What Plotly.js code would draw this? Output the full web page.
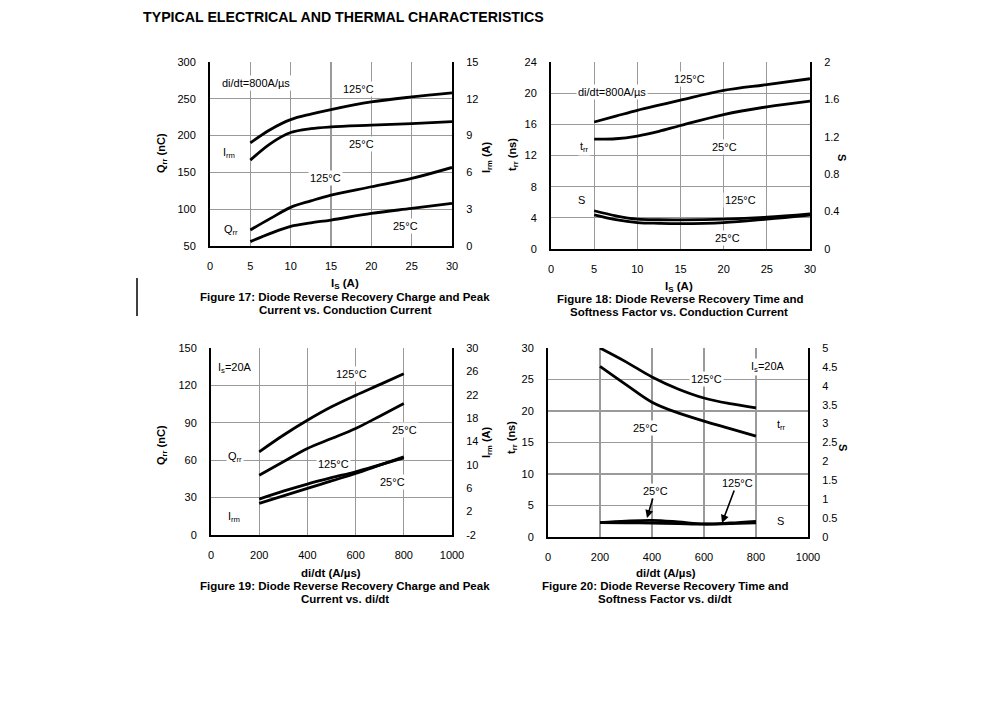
<!DOCTYPE html>
<html>
<head>
<meta charset="utf-8">
<script src="https://cdn.plot.ly/plotly-3.0.1.min.js"></script>
<style>
html,body{margin:0;padding:0;background:#fff;}
#chart{width:991px;height:713px;}
</style>
</head>
<body>
<div id="chart"></div>
<script>
// ---------- DATA ----------
// Figure 17: Qrr / Irm vs Is  (di/dt = 800 A/us)
const fig17_is = [5, 7.5, 10, 12.5, 15, 20, 25, 30];
const fig17_irm_125 = [8.41, 9.50, 10.30, 10.75, 11.12, 11.74, 12.15, 12.48];
const fig17_irm_25  = [7.0, 8.35, 9.25, 9.57, 9.71, 9.85, 9.98, 10.14];
const fig17_qrr_125 = [71.7, 87.5, 102.5, 111.3, 119.2, 130.5, 141.8, 156.7];
const fig17_qrr_25  = [55.9, 67.2, 76.8, 81.5, 85.3, 94.3, 101.1, 107.9];

// Figure 18: trr / S vs Is
const fig18_is = [5, 7.5, 10, 12.5, 15, 20, 25, 30];
const fig18_trr_125 = [16.3, 17.05, 17.8, 18.46, 19.1, 20.35, 21.1, 21.85];
const fig18_trr_25  = [14.1, 14.15, 14.5, 15.1, 15.85, 17.26, 18.25, 18.98];
const fig18_s_125   = [0.409, 0.355, 0.319, 0.313, 0.312, 0.319, 0.340, 0.376];
const fig18_s_25    = [0.366, 0.315, 0.283, 0.275, 0.272, 0.283, 0.319, 0.362];

// Figure 19: Qrr / Irm vs di/dt  (Is = 20 A)
const fig19_didt = [200, 300, 400, 500, 600, 700, 800];
const fig19_qrr_125 = [66.7, 80.0, 92.0, 102.8, 112.0, 120.6, 129.4];
const fig19_qrr_25  = [48.0, 58.7, 69.4, 77.4, 85.4, 95.3, 105.4];
const fig19_irm_125 = [4.15, 5.5, 6.71, 7.8, 8.82, 10.0, 11.21];
const fig19_irm_25  = [3.41, 4.7, 5.97, 7.25, 8.53, 9.95, 11.38];
const fig19_irm_ticks = [-2, 2, 6, 10, 14, 18, 22, 26, 30];
const fig19_irm_ticktext = ['-2', '2', '6', '10', '14', '18', '22', '26', '30'];

// Figure 20: trr / S vs di/dt  (Is = 20 A)
const fig20_didt = [200, 300, 400, 500, 600, 700, 800];
const fig20_trr_125 = [30.0, 27.8, 25.4, 23.5, 22.06, 21.16, 20.5];
const fig20_trr_25  = [27.1, 24.2, 21.4, 19.7, 18.4, 17.2, 16.0];
const fig20_s_25    = [0.38, 0.42, 0.44, 0.40, 0.345, 0.37, 0.415];
const fig20_s_125   = [0.38, 0.375, 0.37, 0.355, 0.34, 0.355, 0.375];

// ---------- LAYOUT HELPERS ----------
const W = 991, H = 713;
const F = 'Liberation Sans, Arial, sans-serif';
const GRID = '#9a9a9a';
const tf = {family: F, size: 11, color: '#000'};

function xAxis(px0, px1, range, dtick, anchor) {
  return {domain: [px0 / W, px1 / W], range: range, dtick: dtick, tick0: 0, anchor: anchor,
    showline: true, linecolor: '#000', linewidth: 2, showgrid: true, gridcolor: GRID, gridwidth: 1.3,
    zeroline: false, ticks: '', tickfont: tf, ticklabelstandoff: 9, fixedrange: true};
}
function yAxisL(py0, py1, range, dtick, tick0, anchor, grid) {
  return {domain: [1 - py1 / H, 1 - py0 / H], range: range, dtick: dtick, tick0: tick0, anchor: anchor,
    showline: true, linecolor: '#000', linewidth: 2, showgrid: grid, gridcolor: GRID, gridwidth: 1.3,
    zeroline: false, ticks: '', tickfont: tf, ticklabelstandoff: 10, fixedrange: true};
}
function yAxisR(range, dtick, tick0, overlay, anchor) {
  return {range: range, dtick: dtick, tick0: tick0, overlaying: overlay, side: 'right', anchor: anchor,
    showline: true, linecolor: '#000', linewidth: 2, showgrid: false, zeroline: false,
    ticks: '', tickfont: tf, ticklabelstandoff: 10, fixedrange: true};
}
function line(x, y, xa, ya) {
  return {x: x, y: y, xaxis: xa, yaxis: ya, type: 'scatter', mode: 'lines',
    line: {color: '#000', width: 2.8, shape: 'spline', smoothing: 1}, hoverinfo: 'skip', showlegend: false};
}

const traces = [
  line(fig17_is, fig17_irm_125, 'x', 'y2'),
  line(fig17_is, fig17_irm_25, 'x', 'y2'),
  line(fig17_is, fig17_qrr_125, 'x', 'y'),
  line(fig17_is, fig17_qrr_25, 'x', 'y'),

  line(fig18_is, fig18_trr_125, 'x2', 'y3'),
  line(fig18_is, fig18_trr_25, 'x2', 'y3'),
  line(fig18_is, fig18_s_125, 'x2', 'y4'),
  line(fig18_is, fig18_s_25, 'x2', 'y4'),

  line(fig19_didt, fig19_qrr_125, 'x3', 'y5'),
  line(fig19_didt, fig19_qrr_25, 'x3', 'y5'),
  line(fig19_didt, fig19_irm_125, 'x3', 'y6'),
  line(fig19_didt, fig19_irm_25, 'x3', 'y6'),

  line(fig20_didt, fig20_trr_125, 'x4', 'y7'),
  line(fig20_didt, fig20_trr_25, 'x4', 'y7'),
  line(fig20_didt, fig20_s_25, 'x4', 'y8'),
  line(fig20_didt, fig20_s_125, 'x4', 'y8')
];

// text helpers (pixel positions)
function T(text, x, y, opts) {
  const o = Object.assign({size: 11, bold: false, bg: true, angle: 0, anchor: 'center'}, opts || {});
  return {text: o.bold ? '<b>' + text + '</b>' : text, x: x / W, y: 1 - y / H, xref: 'paper', yref: 'paper',
    xanchor: o.anchor, yanchor: 'middle', showarrow: false, textangle: o.angle,
    font: {family: F, size: o.size, color: '#000'},
    bgcolor: o.bg ? '#fff' : 'rgba(0,0,0,0)', borderpad: 1};
}
function A(text, x, y, hx, hy) {
  return {text: text, x: hx / W, y: 1 - hy / H, xref: 'paper', yref: 'paper',
    ax: x - hx, ay: y - hy, axref: 'pixel', ayref: 'pixel', showarrow: true,
    arrowhead: 2, arrowsize: 1, arrowwidth: 1.6, arrowcolor: '#000', standoff: 0,
    font: {family: F, size: 11, color: '#000'}, bgcolor: '#fff', borderpad: 1};
}
const CAP = {bold: true, bg: false, size: 11.5};

const annotations = [
  T('TYPICAL ELECTRICAL AND THERMAL CHARACTERISTICS', 141, 17, {bold: true, size: 14.2, anchor: 'left', bg: false}),

  // Fig 17
  T('di/dt=800A/µs', 256, 83),
  T('125°C', 358, 89),
  T('I<sub>rm</sub>', 229, 153),
  T('25°C', 361, 144),
  T('125°C', 325, 178),
  T('Q<sub>rr</sub>', 231, 230),
  T('25°C', 405, 226),
  T('Q<sub>rr</sub> (nC)', 162, 153, {bold: true, angle: -90, bg: false}),
  T('I<sub>rm</sub> (A)', 487, 157, {bold: true, angle: -90, bg: false}),
  T('I<sub>S</sub> (A)', 345, 284, CAP),
  T('Figure 17: Diode Reverse Recovery Charge and Peak', 345, 297, CAP),
  T('Current vs. Conduction Current', 345, 310, CAP),

  // Fig 18
  T('125°C', 689, 79),
  T('di/dt=800A/µs', 612, 92),
  T('t<sub>rr</sub>', 584, 147),
  T('25°C', 724, 147),
  T('S', 581, 200),
  T('125°C', 740, 200),
  T('25°C', 727, 238),
  T('t<sub>rr</sub> (ns)', 513, 155, {bold: true, angle: -90, bg: false}),
  T('S', 842, 157, {bold: true, angle: 90, bg: false}),
  T('I<sub>S</sub> (A)', 679, 287, CAP),
  T('Figure 18: Diode Reverse Recovery Time and', 680, 299, CAP),
  T('Softness Factor vs. Conduction Current', 679, 312, CAP),

  // Fig 19
  T('I<sub>s</sub>=20A', 235, 368),
  T('125°C', 351, 374),
  T('25°C', 404, 430),
  T('Q<sub>rr</sub>', 235, 457),
  T('125°C', 333, 464),
  T('25°C', 392, 482),
  T('I<sub>rm</sub>', 234, 517),
  T('Q<sub>rr</sub> (nC)', 162, 445, {bold: true, angle: -90, bg: false}),
  T('I<sub>rm</sub> (A)', 487, 442, {bold: true, angle: -90, bg: false}),
  T('di/dt (A/µs)', 331, 573, CAP),
  T('Figure 19: Diode Reverse Recovery Charge and Peak', 345, 586, CAP),
  T('Current vs. di/dt', 345, 599, CAP),

  // Fig 20
  T('I<sub>s</sub>=20A', 768, 367),
  T('125°C', 706, 379),
  T('25°C', 645, 428),
  T('t<sub>rr</sub>', 781, 425),
  T('S', 780, 521),
  A('25°C', 655, 491, 647, 518),
  A('125°C', 737, 483, 722, 523),
  T('t<sub>rr</sub> (ns)', 512, 438, {bold: true, angle: -90, bg: false}),
  T('S', 843, 447, {bold: true, angle: 90, bg: false}),
  T('di/dt (A/µs)', 666, 573, CAP),
  T('Figure 20: Diode Reverse Recovery Time and', 665, 586, CAP),
  T('Softness Factor vs. di/dt', 665, 599, CAP)
];

const y6 = yAxisR([-2, 30], 4, -2, 'y5', 'x3');
y6.tickmode = 'array';
y6.tickvals = fig19_irm_ticks;
y6.ticktext = fig19_irm_ticktext;

const layout = {
  width: W, height: H,
  margin: {l: 0, r: 0, t: 0, b: 0},
  paper_bgcolor: '#fff', plot_bgcolor: 'rgba(0,0,0,0)',
  showlegend: false,
  font: {family: F, size: 11, color: '#000'},

  xaxis:  xAxis(210, 452, [0, 30], 5, 'y'),
  yaxis:  yAxisL(62, 246, [50, 300], 50, 0, 'x', true),
  yaxis2: yAxisR([0, 15], 3, 0, 'y', 'x'),

  xaxis2: xAxis(551, 810, [0, 30], 5, 'y3'),
  yaxis3: yAxisL(62, 249, [0, 24], 4, 0, 'x2', true),
  yaxis4: yAxisR([0, 2], 0.4, 0, 'y3', 'x2'),

  xaxis3: xAxis(211, 452, [0, 1000], 200, 'y5'),
  yaxis5: yAxisL(348, 535, [0, 150], 30, 0, 'x3', true),
  yaxis6: y6,

  xaxis4: xAxis(548, 808, [0, 1000], 200, 'y7'),
  yaxis7: yAxisL(348, 537, [0, 30], 5, 0, 'x4', true),
  yaxis8: yAxisR([0, 5], 0.5, 0, 'y7', 'x4'),

  annotations: annotations,
  shapes: [
    {type: 'line', xref: 'paper', yref: 'paper', x0: 137 / W, x1: 137 / W, y0: 1 - 278 / H, y1: 1 - 316 / H,
     line: {color: '#000', width: 1.5}}
  ]
};

Plotly.newPlot('chart', traces, layout, {staticPlot: true, displayModeBar: false});
</script>
</body>
</html>
